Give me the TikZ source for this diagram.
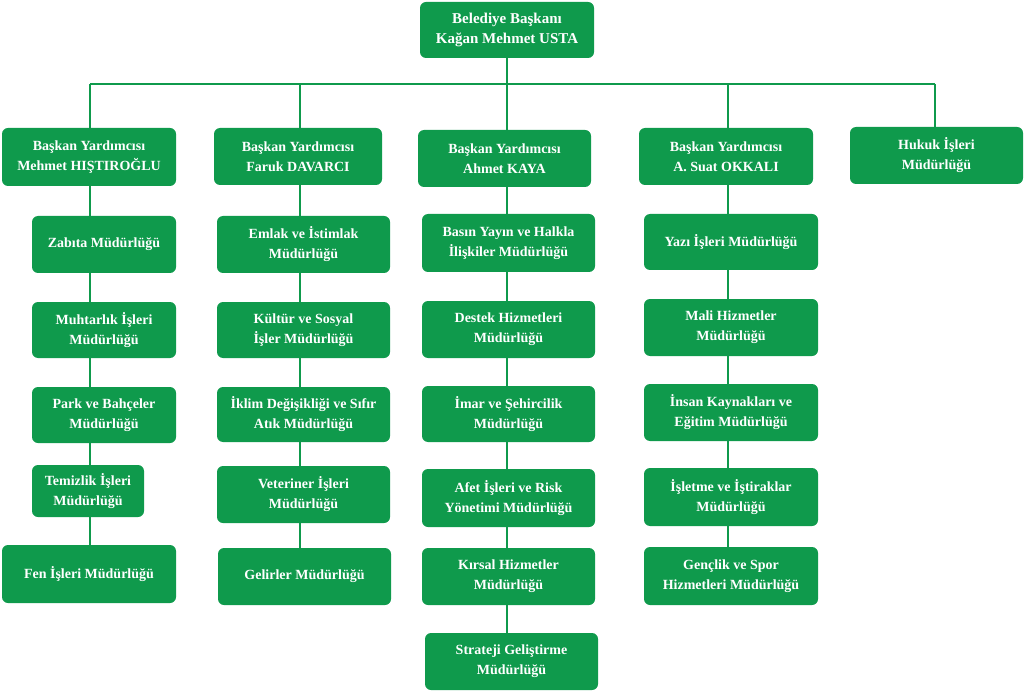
\documentclass[tikz,border=0pt]{standalone}
\usepackage{fontspec}
\setmainfont{Liberation Serif}
\definecolor{gr}{HTML}{0F9A4C}
\begin{document}
\begin{tikzpicture}[x=1pt,y=-1pt,
 bx/.style={fill=gr,rounded corners=6pt,text=white,font=\bfseries\fontsize{14}{20}\selectfont,align=center,inner sep=0pt},
 ln/.style={draw=gr,line width=1.3pt}]
\useasboundingbox (0,0) rectangle (1024,692);
\newcommand\bx[6]{\node[bx,minimum width=#4-#2,minimum height=#5-#3] (#1) at ({(#2+#4)/2},{(#3+#5)/2}) {#6};}
\coordinate (h1) at (90,84); \coordinate (h5) at (935,84);
\bx{top}{420}{2}{594}{58}{\fontsize{15}{21}\selectfont Belediye Başkanı\\\fontsize{15}{21}\selectfont Kağan Mehmet USTA}
\bx{a}{2}{128}{176}{186}{Başkan Yardımcısı\\Mehmet HIŞTIROĞLU}
\bx{b}{214}{128}{382}{185}{Başkan Yardımcısı\\Faruk DAVARCI}
\bx{c}{418}{130}{591}{187}{Başkan Yardımcısı\\Ahmet KAYA}
\bx{d}{639}{128}{813}{185}{Başkan Yardımcısı\\A. Suat OKKALI}
\bx{e}{850}{127}{1023}{184}{Hukuk İşleri\\Müdürlüğü}
\bx{a1}{32}{216}{176}{273}{Zabıta Müdürlüğü}
\bx{a2}{32}{302}{176}{358}{Muhtarlık İşleri\\Müdürlüğü}
\bx{a3}{32}{387}{176}{443}{Park ve Bahçeler\\Müdürlüğü}
\bx{a4}{32}{465}{144}{517}{Temizlik İşleri\\Müdürlüğü}
\bx{a5}{2}{545}{176}{603}{Fen İşleri Müdürlüğü}
\bx{b1}{217}{216}{390}{273}{Emlak ve İstimlak\\Müdürlüğü}
\bx{b2}{217}{302}{390}{358}{Kültür ve Sosyal\\İşler Müdürlüğü}
\bx{b3}{217}{387}{390}{442}{İklim Değişikliği ve Sıfır\\Atık Müdürlüğü}
\bx{b4}{217}{466}{390}{523}{Veteriner İşleri\\Müdürlüğü}
\bx{b5}{218}{548}{391}{605}{Gelirler Müdürlüğü}
\bx{c1}{422}{214}{595}{272}{Basın Yayın ve Halkla\\İlişkiler Müdürlüğü}
\bx{c2}{422}{301}{595}{358}{Destek Hizmetleri\\Müdürlüğü}
\bx{c3}{422}{386}{595}{442}{İmar ve Şehircilik\\Müdürlüğü}
\bx{c4}{422}{469}{595}{527}{Afet İşleri ve Risk\\Yönetimi Müdürlüğü}
\bx{c5}{422}{548}{595}{605}{Kırsal Hizmetler\\Müdürlüğü}
\bx{c6}{425}{633}{598}{690}{Strateji Geliştirme\\Müdürlüğü}
\bx{d1}{644}{214}{818}{270}{Yazı İşleri Müdürlüğü}
\bx{d2}{644}{299}{818}{356}{Mali Hizmetler\\Müdürlüğü}
\bx{d3}{644}{384}{818}{441}{İnsan Kaynakları ve\\Eğitim Müdürlüğü}
\bx{d4}{644}{468}{818}{526}{İşletme ve İştiraklar\\Müdürlüğü}
\bx{d5}{644}{547}{818}{605}{Gençlik ve Spor\\Hizmetleri Müdürlüğü}
\draw[ln] (h1) -- (h5);
\draw[ln] (top.south -| 507,0) -- (507,84);
\draw[ln] (h1) -- (a.north -| h1);
\draw[ln] (300,84) -- (b.north -| 300,0);
\draw[ln] (507,84) -- (c.north -| 507,0);
\draw[ln] (728,84) -- (d.north -| 728,0);
\draw[ln] (h5) -- (e.north -| h5);
\foreach \p/\q in {a/a1,a1/a2,a2/a3,a3/a4,a4/a5}{\draw[ln] (\p.south -| 90,0) -- (\q.north -| 90,0);}
\foreach \p/\q in {b/b1,b1/b2,b2/b3,b3/b4,b4/b5}{\draw[ln] (\p.south -| 300,0) -- (\q.north -| 300,0);}
\foreach \p/\q in {c/c1,c1/c2,c2/c3,c3/c4,c4/c5,c5/c6}{\draw[ln] (\p.south -| 507,0) -- (\q.north -| 507,0);}
\foreach \p/\q in {d/d1,d1/d2,d2/d3,d3/d4,d4/d5}{\draw[ln] (\p.south -| 728,0) -- (\q.north -| 728,0);}
\end{tikzpicture}
\end{document}
